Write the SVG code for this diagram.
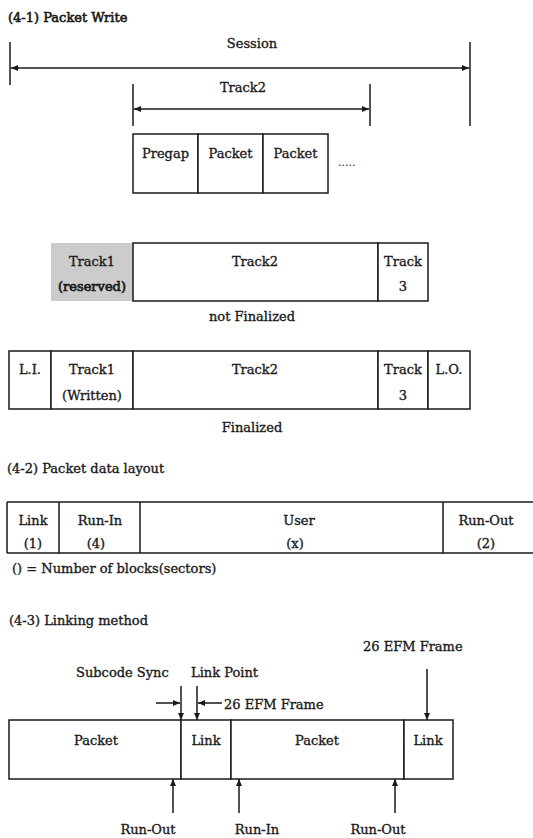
<svg xmlns="http://www.w3.org/2000/svg" width="533" height="838" viewBox="0 0 533 838">
<style>
text{font-family:"DejaVu Serif","Liberation Serif",serif;font-size:13px;fill:#1a1a1a;stroke:#1a1a1a;stroke-width:0.35}
.c{text-anchor:middle}
.b{fill:#fff;stroke:#1a1a1a;stroke-width:1.5}
.g{fill:#cccccc;stroke:none}
.ln{stroke:#1a1a1a;stroke-width:1.5;fill:none}
.ar{stroke:#1a1a1a;stroke-width:1.5;fill:none;marker-end:url(#ah)}
.ar2{stroke:#1a1a1a;stroke-width:1.5;fill:none;marker-start:url(#ah);marker-end:url(#ah)}
</style>
<defs>
<marker id="ah" markerUnits="userSpaceOnUse" markerWidth="8" markerHeight="8" refX="7" refY="4" orient="auto-start-reverse" viewBox="0 0 8 8">
<path d="M0,1 L7,4 L0,7 Z" fill="#1a1a1a"/>
</marker>
</defs>
<rect width="533" height="838" fill="#fff"/>

<g id="titles">
<text x="8" y="22" style="stroke-width:0.6">(4-1) Packet Write</text>
<text x="7" y="473">(4-2) Packet data layout</text>
<text x="9" y="625">(4-3) Linking method</text>
</g>

<g id="connectors">
<line class="ln" x1="10" y1="42" x2="10" y2="85"/>
<line class="ln" x1="470" y1="42" x2="470" y2="126"/>
<line class="ar2" x1="11" y1="68" x2="469" y2="68"/>
<line class="ln" x1="133" y1="84" x2="133" y2="126"/>
<line class="ln" x1="370" y1="84" x2="370" y2="126"/>
<line class="ar2" x1="134" y1="109" x2="369" y2="109"/>
<line class="ar" x1="181" y1="686" x2="181" y2="720"/>
<line class="ar" x1="197" y1="686" x2="197" y2="720"/>
<line class="ar" x1="156" y1="703" x2="180" y2="703"/>
<line class="ar" x1="222" y1="703" x2="198" y2="703"/>
<line class="ar" x1="427" y1="669" x2="427" y2="720"/>
<line class="ar" x1="173" y1="813" x2="173" y2="779"/>
<line class="ar" x1="239" y1="813" x2="239" y2="779"/>
<line class="ar" x1="395" y1="813" x2="395" y2="779"/>
</g>

<g id="labels41">
<text class="c" x="252" y="48">Session</text>
<text class="c" x="243" y="92">Track2</text>
<text x="338" y="166" style="font-size:11px;stroke-width:0">.....</text>
<text class="c" x="252" y="321">not Finalized</text>
<text class="c" x="252" y="432">Finalized</text>
</g>

<g id="pregap"><rect class="b" x="133" y="134" width="65" height="59"/><text class="c" x="165.5" y="158">Pregap</text></g>
<g id="packet1"><rect class="b" x="198" y="134" width="65" height="59"/><text class="c" x="230.5" y="158">Packet</text></g>
<g id="packet2"><rect class="b" x="263" y="134" width="65" height="59"/><text class="c" x="295.5" y="158">Packet</text></g>

<g id="nf-track1"><rect class="g" x="51" y="243" width="82" height="58"/><text class="c" x="92" y="266">Track1</text><text class="c" x="92" y="291" style="stroke-width:0.7">(reserved)</text></g>
<g id="nf-track2"><rect class="b" x="133" y="243" width="245" height="58"/><text class="c" x="255" y="266">Track2</text></g>
<g id="nf-track3"><rect class="b" x="378" y="243" width="50" height="58"/><text class="c" x="403" y="266">Track</text><text class="c" x="403" y="291">3</text></g>

<g id="f-li"><rect class="b" x="9" y="351" width="42" height="58"/><text class="c" x="30" y="374">L.I.</text></g>
<g id="f-track1"><rect class="b" x="51" y="351" width="82" height="58"/><text class="c" x="92" y="374">Track1</text><text class="c" x="92" y="400">(Written)</text></g>
<g id="f-track2"><rect class="b" x="133" y="351" width="245" height="58"/><text class="c" x="255" y="374">Track2</text></g>
<g id="f-track3"><rect class="b" x="378" y="351" width="50" height="58"/><text class="c" x="403" y="374">Track</text><text class="c" x="403" y="400">3</text></g>
<g id="f-lo"><rect class="b" x="428" y="351" width="42" height="58"/><text class="c" x="449" y="374">L.O.</text></g>

<g id="layout">
<line class="ln" x1="7" y1="502" x2="533" y2="502"/>
<line class="ln" x1="7" y1="553" x2="533" y2="553"/>
<line class="ln" x1="7" y1="502" x2="7" y2="553"/>
</g>
<g id="pd-link"><line class="ln" x1="59" y1="502" x2="59" y2="553"/><text class="c" x="33" y="525">Link</text><text class="c" x="33" y="548">(1)</text></g>
<g id="pd-runin"><line class="ln" x1="140" y1="502" x2="140" y2="553"/><text class="c" x="100" y="525">Run-In</text><text class="c" x="96" y="548">(4)</text></g>
<g id="pd-user"><line class="ln" x1="443" y1="502" x2="443" y2="553"/><text class="c" x="299" y="525">User</text><text class="c" x="295" y="548">(x)</text></g>
<g id="pd-runout"><text class="c" x="486" y="525">Run-Out</text><text class="c" x="486" y="548">(2)</text></g>
<text x="12" y="573">()  = Number of blocks(sectors)</text>

<g id="lk-labels">
<text x="363" y="651">26 EFM Frame</text>
<text x="76" y="677">Subcode Sync</text>
<text x="191" y="677">Link Point</text>
<text x="224" y="709">26 EFM Frame</text>
<text class="c" x="148" y="834">Run-Out</text>
<text class="c" x="257" y="834">Run-In</text>
<text class="c" x="378" y="834">Run-Out</text>
</g>
<g id="lk-packet1"><rect class="b" x="9" y="720" width="172" height="59"/><text class="c" x="96" y="745">Packet</text></g>
<g id="lk-link1"><rect class="b" x="181" y="720" width="50" height="59"/><text class="c" x="206" y="745">Link</text></g>
<g id="lk-packet2"><rect class="b" x="231" y="720" width="173" height="59"/><text class="c" x="317" y="745">Packet</text></g>
<g id="lk-link2"><rect class="b" x="404" y="720" width="49" height="59"/><text class="c" x="428" y="745">Link</text></g>
</svg>
